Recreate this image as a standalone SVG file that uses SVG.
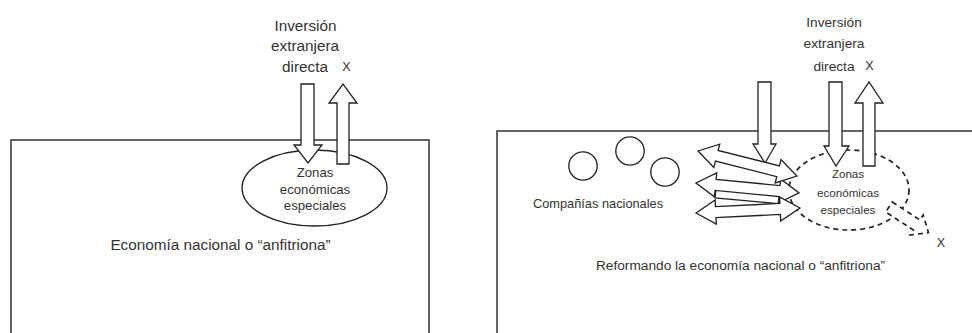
<svg xmlns="http://www.w3.org/2000/svg" width="972" height="333" viewBox="0 0 972 333">
  <defs>
    <style>
      .frame { fill: none; stroke: #333; stroke-width: 1.5; }
      .block { fill: #fff; stroke: #222; stroke-width: 1.3; stroke-linejoin: miter; }
      .dash { fill: #fff; stroke: #222; stroke-width: 1.7; stroke-dasharray: 5 4; }
      .zone { fill: #fff; stroke: #222; stroke-width: 1.3; }
      .co { fill: #fff; stroke: #222; stroke-width: 1.3; }
      text { font-family: "Liberation Sans", Arial, sans-serif; fill: #333; text-anchor: middle; }
      .t-lg { font-size: 15.3px; }
      .t-md { font-size: 13.7px; }
      .t-sm { font-size: 13.2px; }
      .t-xs { font-size: 11.6px; }
      .t-x { font-size: 12.5px; }
    </style>
    <!-- double-headed block arrow, 100 px long, tip to tip -->
    <polygon id="dbl" points="0,0 19,-12 19,-5.5 81,-5.5 81,-12 100,0 81,12 81,5.5 19,5.5 19,12"/>
  </defs>

  <!-- left panel: host economy -->
  <g id="host-economy">
    <path class="frame" d="M11,333 V140 H429 V333"/>
    <text class="t-lg" x="220.5" y="250">Economía nacional o “anfitriona”</text>
  </g>

  <g id="sez-left">
    <ellipse class="zone" cx="314.5" cy="188" rx="72.5" ry="38"/>
    <text class="t-sm" x="315" y="177">Zonas</text>
    <text class="t-sm" x="315" y="194">económicas</text>
    <text class="t-sm" x="315" y="209.5">especiales</text>
  </g>

  <g id="fdi-label-left">
    <text class="t-lg" x="305.5" y="31">Inversión</text>
    <text class="t-lg" x="305" y="51">extranjera</text>
    <text class="t-lg" x="305" y="71.5">directa</text>
    <text class="t-x" x="346.5" y="71">X</text>
  </g>

  <!-- right panel: reshaping the host economy -->
  <g id="reshaped-economy">
    <path class="frame" d="M497,333 V131 H972"/>
    <text class="t-md" x="740.5" y="270">Reformando la economía nacional o “anfitriona”</text>
  </g>

  <g id="national-companies">
    <circle class="co" cx="583" cy="166" r="14.2"/>
    <circle class="co" cx="630" cy="151" r="14.2"/>
    <circle class="co" cx="665" cy="172" r="14.2"/>
    <text class="t-sm" x="598" y="208" style="font-size:12.8px">Compañías nacionales</text>
  </g>

  <g id="sez-right">
    <ellipse class="dash" cx="849" cy="190" rx="60" ry="40" style="fill:none"/>
    <text class="t-xs" x="848" y="178">Zonas</text>
    <text class="t-xs" x="848" y="196.5">económicas</text>
    <text class="t-xs" x="848" y="213.5">especiales</text>
  </g>

  <g id="fdi-label-right">
    <text class="t-md" x="834" y="26.7">Inversión</text>
    <text class="t-md" x="834" y="48.3">extranjera</text>
    <text class="t-md" x="834" y="70.7">directa</text>
    <text class="t-x" x="869.5" y="69.5">X</text>
  </g>

  <text id="exit-x" class="t-x" x="941" y="247">X</text>

  <!-- connectors: investment flows and linkages -->
  <g id="connectors">
    <!-- left panel: inflow and outflow -->
    <polygon class="block" points="301,84 314,84 314,145 322,145 308,163 294,145 301,145"/>
    <polygon class="block" points="337,164 349,164 349,103 357,103 343,84 329,103 337,103"/>

    <!-- right panel: inflows and outflow -->
    <polygon class="block" points="758,82 771,82 771,144 776,144 765,163 753,144 758,144"/>
    <polygon class="block" points="829,82 842,82 842,146 849,146 836,166 824,146 829,146"/>
    <polygon class="block" points="863,166 875,166 875,103 883,103 869,82 855,103 863,103"/>

    <!-- two-way linkages between companies and the zones -->
    <polygon class="block" points="716,188 782,194 781,204 715,198"/>
    <use href="#dbl" class="block" transform="translate(696,183) rotate(5.5) scale(1.035,1)"/>
    <use href="#dbl" class="block" transform="translate(696,213) rotate(-2.75) scale(1.04,1)"/>
    <use href="#dbl" class="block" transform="translate(698,151) rotate(14.2) scale(1.02,1)"/>

    <!-- dashed outflow leaving the zones -->
    <polygon class="dash" transform="translate(889,207) rotate(33)" points="0,-6 33,-6 33,-12 47,0 33,12 33,6 0,6"/>
  </g>
</svg>
